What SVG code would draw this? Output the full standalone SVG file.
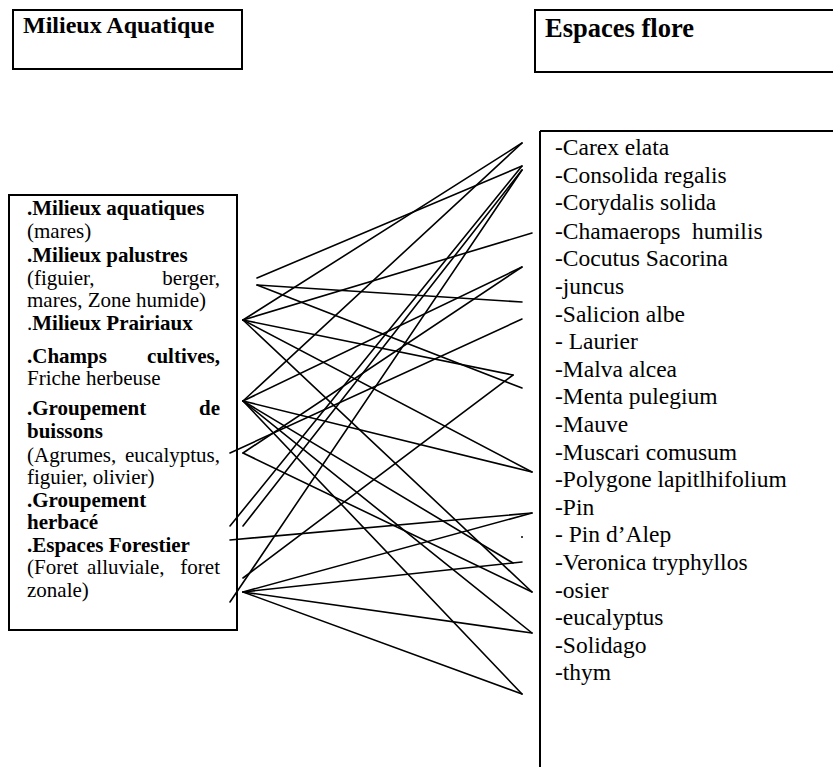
<svg xmlns="http://www.w3.org/2000/svg" width="833" height="767" viewBox="0 0 833 767">
  <style>
    .box { fill: none; stroke: #000; stroke-width: 2; }
    .lnk { stroke: #000; stroke-width: 1.6; fill: none; stroke-linecap: round; }
    text { font-family: "Liberation Serif", "Times New Roman", serif; fill: #000; }
    .lb { font-size: 21px; }
    .li { font-size: 23.5px; }
    .b { font-weight: bold; }
    .end { text-anchor: end; }
  </style>
  <rect width="833" height="767" fill="#fff"/>

  <!-- header boxes -->
  <g id="title-milieux">
    <rect class="box" x="13" y="10" width="229" height="59"/>
    <text x="23" y="33" class="b" font-size="24">Milieux Aquatique</text>
  </g>
  <g id="title-flore">
    <rect class="box" x="535" y="10" width="310" height="62"/>
    <text x="545" y="37" class="b" font-size="26.5">Espaces flore</text>
  </g>

  <!-- habitat list -->
  <g id="milieux" class="lb">
    <rect class="box" x="9" y="195" width="228" height="435"/>
    <text x="27" y="215" class="b">.Milieux aquatiques</text>
    <text x="27" y="238">(mares)</text>
    <text x="27" y="262" class="b">.Milieux palustres</text>
    <text x="27" y="285">(figuier,</text>
    <text x="220" y="285" class="end">berger,</text>
    <text x="27" y="307">mares, Zone humide)</text>
    <text x="27" y="330">.<tspan class="b">Milieux Prairiaux</tspan></text>
    <text x="27" y="363" class="b">.Champs</text>
    <text x="220" y="363" class="b end">cultives,</text>
    <text x="27" y="385">Friche herbeuse</text>
    <text x="27" y="415" class="b">.Groupement</text>
    <text x="220" y="415" class="b end">de</text>
    <text x="27" y="438" class="b">buissons</text>
    <text x="27" y="462">(Agrumes,</text>
    <text x="220" y="462" class="end">eucalyptus,</text>
    <text x="27" y="484">figuier, olivier)</text>
    <text x="27" y="507" class="b">.Groupement</text>
    <text x="27" y="529" class="b">herbacé</text>
    <text x="27" y="552" class="b">.Espaces Forestier</text>
    <text x="27" y="574">(Foret</text>
    <text x="87" y="574">alluviale,</text>
    <text x="220" y="574" class="end">foret</text>
    <text x="27" y="597">zonale)</text>
  </g>

  <!-- species list -->
  <g id="flore" class="li">
    <path class="box" d="M540 131 H840 M540 131 V770"/>
    <text x="555" y="155">-Carex elata</text>
    <text x="555" y="182.6">-Consolida regalis</text>
    <text x="555" y="210.2">-Corydalis solida</text>
    <text x="555" y="238.8" xml:space="preserve">-Chamaerops  humilis</text>
    <text x="555" y="266.4">-Cocutus Sacorina</text>
    <text x="555" y="294">-juncus</text>
    <text x="555" y="321.6">-Salicion albe</text>
    <text x="555" y="349.2">- Laurier</text>
    <text x="555" y="376.8">-Malva alcea</text>
    <text x="555" y="404.4">-Menta pulegium</text>
    <text x="555" y="432">-Mauve</text>
    <text x="555" y="459.6">-Muscari comusum</text>
    <text x="555" y="487.2">-Polygone lapitlhifolium</text>
    <text x="555" y="514.8">-Pin</text>
    <text x="555" y="542.4">- Pin d’Alep</text>
    <text x="555" y="570">-Veronica tryphyllos</text>
    <text x="555" y="597.6">-osier</text>
    <text x="555" y="625.2">-eucalyptus</text>
    <text x="555" y="652.8">-Solidago</text>
    <text x="555" y="680.4">-thym</text>
  </g>

  <!-- connectors -->
  <g id="connectors" class="lnk">
    <line x1="257" y1="278" x2="522" y2="166"/>
    <line x1="257" y1="285" x2="522" y2="302"/>
    <line x1="257" y1="285" x2="522" y2="388"/>
    <line x1="243" y1="320" x2="522" y2="143"/>
    <line x1="243" y1="320" x2="532" y2="233"/>
    <line x1="243" y1="320" x2="513" y2="375"/>
    <line x1="243" y1="320" x2="532" y2="472"/>
    <line x1="243" y1="320" x2="532" y2="592"/>
    <line x1="243" y1="401" x2="522" y2="143"/>
    <line x1="243" y1="401" x2="522" y2="267"/>
    <line x1="243" y1="401" x2="532" y2="472"/>
    <line x1="243" y1="401" x2="513" y2="563"/>
    <line x1="243" y1="401" x2="532" y2="633"/>
    <line x1="243" y1="401" x2="522" y2="694"/>
    <line x1="243" y1="453" x2="522" y2="267"/>
    <line x1="243" y1="453" x2="532" y2="592"/>
    <line x1="230" y1="453" x2="522" y2="319"/>
    <line x1="243" y1="526" x2="522" y2="170"/>
    <line x1="230" y1="526" x2="522" y2="166"/>
    <line x1="243" y1="578" x2="513" y2="375"/>
    <line x1="230" y1="602" x2="522" y2="170"/>
    <line x1="230" y1="540" x2="532" y2="513"/>
    <line x1="243" y1="592" x2="532" y2="513"/>
    <line x1="243" y1="592" x2="522" y2="562"/>
    <line x1="243" y1="592" x2="532" y2="633"/>
    <line x1="243" y1="592" x2="522" y2="694"/>
  </g>
  <circle cx="522" cy="537" r="1" fill="#000"/>
</svg>
